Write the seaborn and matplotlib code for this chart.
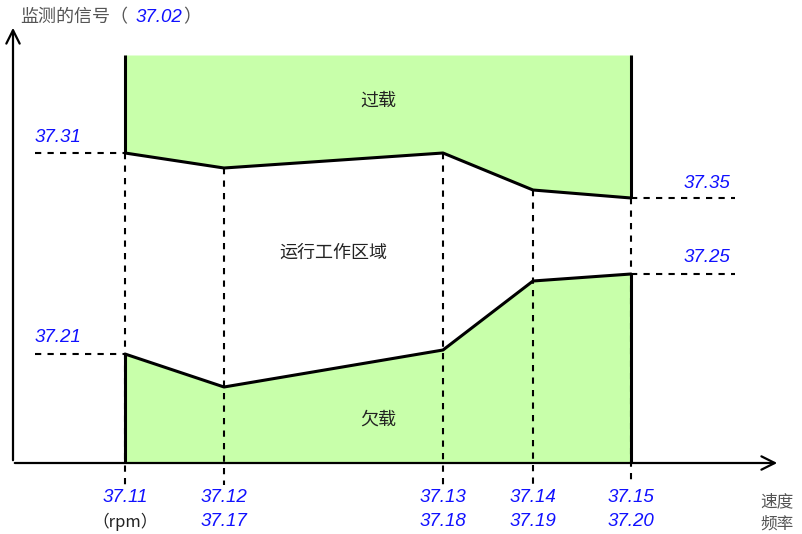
import matplotlib
matplotlib.use('Agg')
import matplotlib.pyplot as plt
import seaborn as sns

# breakpoints on the speed/frequency axis (arbitrary diagram units)
speed = [112, 211, 430, 520, 618]
upper = [310, 295, 310, 273, 265]   # overload curve
lower = [109, 76, 113, 182, 189]    # underload curve
top = 408

speed_labels = ['37.11', '37.12', '37.13', '37.14', '37.15']
freq_labels = ['（rpm）', '37.17', '37.18', '37.19', '37.20']
left_labels = ['37.31', '37.21']
right_labels = ['37.35', '37.25']

sns.set_theme(style='white')
plt.rcParams['font.family'] = ['Noto Sans CJK SC', 'DejaVu Sans']

fig = plt.figure(figsize=(8.02, 5.34), dpi=100)
ax = fig.add_axes([0, 0, 1, 1])
ax.set_xlim(-13, 789)
ax.set_ylim(-71, 463)
ax.axis('off')

green = '#c8ffaa'
blue = '#1010ff'
gray = '#555555'
num_font = dict(family='Liberation Sans', style='italic', size=13.5, color=blue)

# filled regions
ax.fill_between(speed, upper, top, color=green, lw=0)
ax.fill_between(speed, 0, lower, color=green, lw=0)

# dashed guide lines
for x, u in zip(speed, upper):
    ax.plot([x, x], [u, -22], color='black', lw=1.5, ls=(0, (3, 3)))
ax.plot([22, speed[0]], [upper[0], upper[0]], color='black', lw=1.5, ls=(0, (3, 3)))
ax.plot([22, speed[0]], [lower[0], lower[0]], color='black', lw=1.5, ls=(0, (3, 3)))
ax.plot([speed[-1], 722], [upper[-1], upper[-1]], color='black', lw=1.5, ls=(0, (3, 3)))
ax.plot([speed[-1], 722], [lower[-1], lower[-1]], color='black', lw=1.5, ls=(0, (3, 3)))

# boundary curves
sns.lineplot(x=speed, y=upper, color='black', lw=2.2, ax=ax)
sns.lineplot(x=speed, y=lower, color='black', lw=2.2, ax=ax)
for x, u, l in [(speed[0], upper[0], lower[0]), (speed[-1], upper[-1], lower[-1])]:
    ax.plot([x, x], [top, u], color='black', lw=2.2, solid_capstyle='butt')
    ax.plot([x, x], [l, 0], color='black', lw=2.2, solid_capstyle='butt')

# axes with open arrows
ax.annotate('', xy=(0, 438), xytext=(0, 0),
            arrowprops=dict(arrowstyle='->,head_length=0.8,head_width=0.4', lw=1.6, color='black'))
ax.annotate('', xy=(767, 0), xytext=(-1, 0),
            arrowprops=dict(arrowstyle='->,head_length=0.8,head_width=0.4', lw=1.6, color='black'))

# axis titles
ax.text(7, 446, '监测的信号（', color=gray, size=13, va='center', ha='left')
ax.text(123, 446, '37.02', va='center', ha='left', **num_font)
ax.text(170, 446, '）', color=gray, size=13, va='center', ha='left')
ax.text(747, -39, '速度', color=gray, size=12, va='center', ha='left')
ax.text(747, -61, '频率', color=gray, size=12, va='center', ha='left')

# tick labels
for x, s, f in zip(speed, speed_labels, freq_labels):
    ax.text(x, -35, s, ha='center', va='center', **num_font)
    if f.startswith('（'):
        ax.text(x, -59, f, ha='center', va='center', size=12, color='#222222')
    else:
        ax.text(x, -59, f, ha='center', va='center', **num_font)
ax.text(22, 325, left_labels[0], ha='left', va='center', **num_font)
ax.text(22, 125, left_labels[1], ha='left', va='center', **num_font)
ax.text(671, 280, right_labels[0], ha='left', va='center', **num_font)
ax.text(671, 205, right_labels[1], ha='left', va='center', **num_font)

# region labels
ax.text(365, 362, '过载', ha='center', va='center', size=13, color='#222222')
ax.text(320, 210, '运行工作区域', ha='center', va='center', size=13, color='#222222')
ax.text(365, 43, '欠载', ha='center', va='center', size=13, color='#222222')

fig.savefig('out.png', dpi=100)
